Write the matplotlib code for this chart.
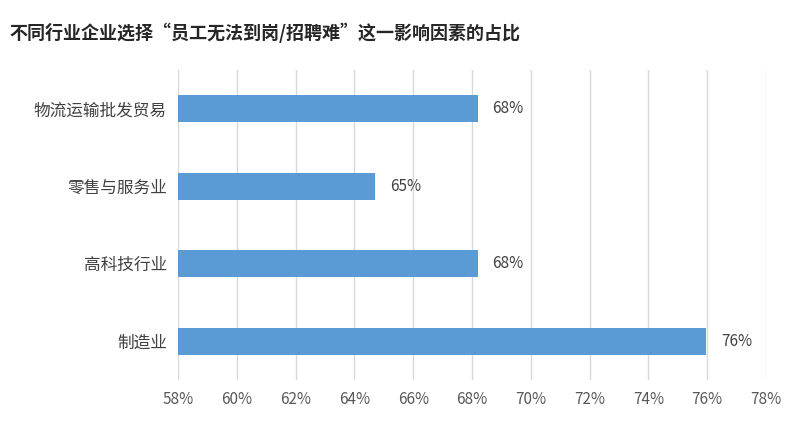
import matplotlib.pyplot as plt

plt.rcParams['font.family'] = ['Noto Sans CJK SC', 'DejaVu Sans']

categories = ['制造业', '高科技行业', '零售与服务业', '物流运输批发贸易']
values = [75.96, 68.2, 64.7, 68.2]
labels = ['76%', '68%', '65%', '68%']
ticks = list(range(58, 80, 2))

fig = plt.figure(figsize=(7.93, 4.32), dpi=100)
ax = fig.add_axes([0.2245, 0.12, 0.7415, 0.718])

bars = ax.barh(range(len(categories)), [v - 58 for v in values], left=58,
               height=0.35, color='#5B9BD5', zorder=3)
for i, (v, lab) in enumerate(zip(values, labels)):
    ax.text(v + 0.5, i, lab, va='center', ha='left', fontsize=11, color='#404040')

ax.set_xlim(58, 78)
ax.set_ylim(-0.5, 3.5)
ax.set_xticks(ticks)
ax.set_xticklabels([f'{t}%' for t in ticks], fontsize=11, color='#595959')
ax.set_yticks(range(len(categories)))
ax.set_yticklabels(categories, fontsize=12, color='#404040')
ax.grid(axis='x', color='#D9D9D9', linewidth=1, zorder=0)
ax.tick_params(length=0, pad=8)
for s in ax.spines.values():
    s.set_visible(False)

fig.text(0.012, 0.925, '不同行业企业选择“员工无法到岗/招聘难”这一影响因素的占比',
         fontsize=13, fontweight='bold', color='#262626', va='center')

fig.savefig('out.png', dpi=100)
